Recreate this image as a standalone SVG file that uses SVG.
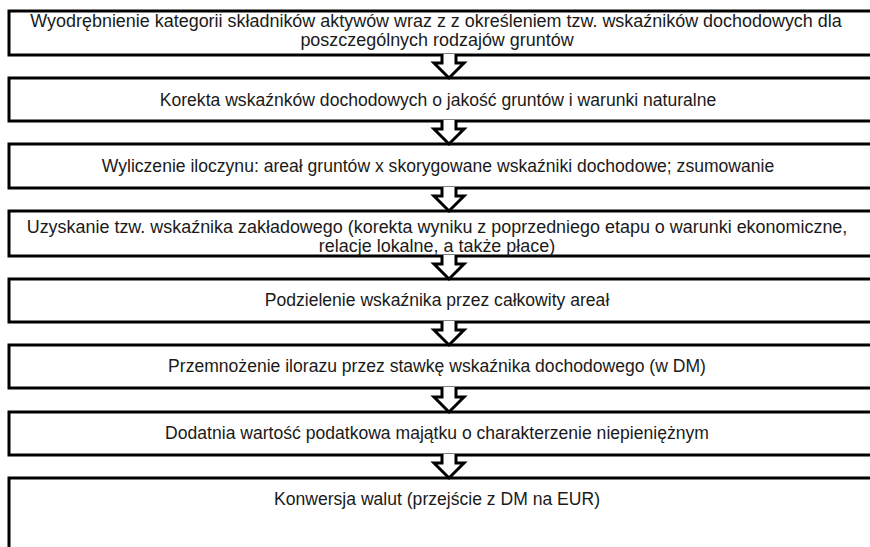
<svg xmlns="http://www.w3.org/2000/svg" width="870" height="547" viewBox="0 0 870 547">
<style>
.box{fill:#fff;stroke:#000;stroke-width:3}
.arr{fill:#fff;stroke:#000;stroke-width:3;stroke-linejoin:miter}
text{font-family:"Liberation Sans Narrow","Arial Narrow",sans-serif;font-size:18.5px;fill:#1a1a1a;text-anchor:middle}
</style>
<rect width="870" height="547" fill="#fff"/>
<g id="n1"><rect class="box" x="9" y="11" width="880" height="44"/>
<text transform="translate(436,27) scale(0.97,1)">Wyodrębnienie kategorii składników aktywów wraz z z określeniem tzw. wskaźników dochodowych dla</text>
<text transform="translate(437,46) scale(0.97,1)">poszczególnych rodzajów gruntów</text></g>
<g id="n2"><rect class="box" x="9" y="78" width="880" height="43"/>
<text transform="translate(438,106) scale(0.95,1)">Korekta wskaźnków dochodowych o jakość gruntów i warunki naturalne</text></g>
<g id="n3"><rect class="box" x="9" y="144" width="880" height="44"/>
<text transform="translate(438,172) scale(0.95,1)">Wyliczenie iloczynu: areał gruntów x skorygowane wskaźniki dochodowe; zsumowanie</text></g>
<g id="n4"><rect class="box" x="9" y="211" width="880" height="45"/>
<text transform="translate(437,233) scale(0.97,1)">Uzyskanie tzw. wskaźnika zakładowego (korekta  wyniku z poprzedniego etapu o warunki ekonomiczne,</text>
<text transform="translate(437,252) scale(0.97,1)">relacje lokalne, a także płace)</text></g>
<g id="n5"><rect class="box" x="9" y="279" width="880" height="43"/>
<text transform="translate(437,306) scale(0.95,1)">Podzielenie wskaźnika przez całkowity areał</text></g>
<g id="n6"><rect class="box" x="9" y="345" width="880" height="43"/>
<text transform="translate(437,372) scale(0.95,1)">Przemnożenie ilorazu  przez stawkę wskaźnika dochodowego (w DM)</text></g>
<g id="n7"><rect class="box" x="9" y="412" width="880" height="43"/>
<text transform="translate(437,439) scale(0.95,1)">Dodatnia wartość podatkowa majątku o charakterzenie niepieniężnym</text></g>
<g id="n8"><rect class="box" x="9" y="478" width="880" height="90"/>
<text transform="translate(437,505) scale(0.95,1)">Konwersja walut (przejście z DM na EUR)</text></g>
<g id="connectors">
<path class="arr" d="M442 54 V63 H434 L449 78 L464 63 H456 V54"/>
<path class="arr" d="M442 120 V129 H434 L449 144 L464 129 H456 V120"/>
<path class="arr" d="M442 187 V196 H434 L449 211 L464 196 H456 V187"/>
<path class="arr" d="M442 255 V264 H434 L449 279 L464 264 H456 V255"/>
<path class="arr" d="M442 321 V330 H434 L449 345 L464 330 H456 V321"/>
<path class="arr" d="M442 387 V397 H434 L449 412 L464 397 H456 V387"/>
<path class="arr" d="M442 454 V463 H434 L449 478 L464 463 H456 V454"/>
</g>
</svg>
